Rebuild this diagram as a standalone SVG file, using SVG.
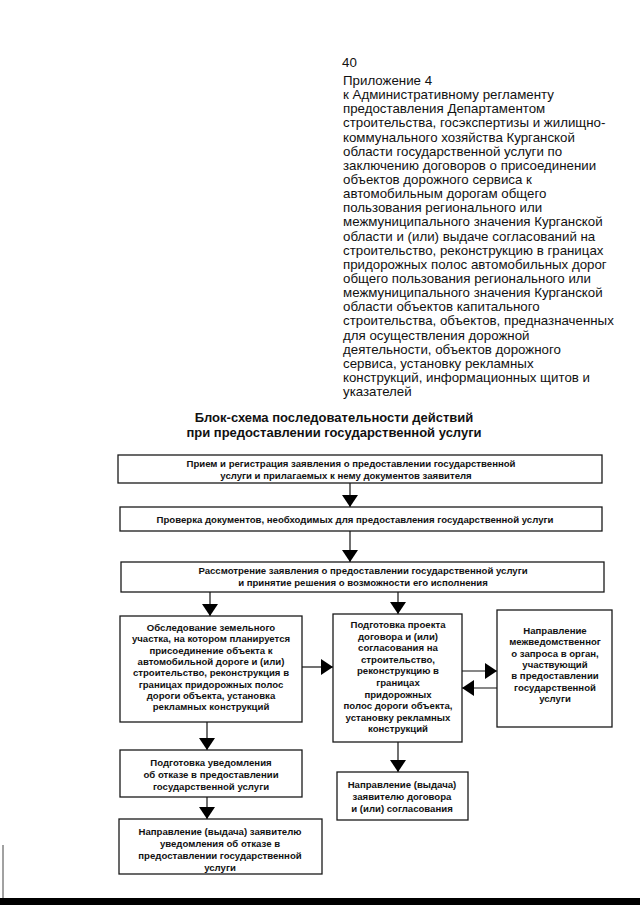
<svg xmlns="http://www.w3.org/2000/svg" width="640" height="905" viewBox="0 0 640 905">
<defs>
<style>
.hd{font-family:"Liberation Sans",Arial,sans-serif;font-size:13.3px;fill:#111}
.tt{font-family:"Liberation Sans",Arial,sans-serif;font-size:13px;font-weight:bold;fill:#111;text-anchor:middle}
.bx{fill:#fff;stroke:#1a1a1a;stroke-width:1.3}
.tx{font-family:"Liberation Sans",Arial,sans-serif;font-size:9.6px;font-weight:bold;fill:#111;text-anchor:middle}
.ln{stroke:#111;stroke-width:1.2;fill:none}
</style>
<marker id="ah" viewBox="0 0 12 16" refX="12" refY="8" markerWidth="12" markerHeight="16" markerUnits="userSpaceOnUse" orient="auto">
<path d="M0,0 L12,8 L0,16 Z" fill="#000"/>
</marker>
</defs>
<rect width="640" height="905" fill="#fff"/>

<g id="header">
<text class="hd" x="342" y="67" font-size="14">40</text>
<text class="hd" x="343" y="85">Приложение 4</text>
<text class="hd" x="343" y="99.1">к Административному регламенту</text>
<text class="hd" x="343" y="113.3">предоставления Департаментом</text>
<text class="hd" x="343" y="127.4">строительства, госэкспертизы и жилищно-</text>
<text class="hd" x="343" y="141.6">коммунального хозяйства Курганской</text>
<text class="hd" x="343" y="155.7">области государственной услуги по</text>
<text class="hd" x="343" y="169.9">заключению договоров о присоединении</text>
<text class="hd" x="343" y="184">объектов дорожного сервиса к</text>
<text class="hd" x="343" y="198.1">автомобильным дорогам общего</text>
<text class="hd" x="343" y="212.3">пользования регионального или</text>
<text class="hd" x="343" y="226.4">межмуниципального значения Курганской</text>
<text class="hd" x="343" y="240.6">области и (или) выдаче согласований на</text>
<text class="hd" x="343" y="254.7">строительство, реконструкцию в границах</text>
<text class="hd" x="343" y="268.9">придорожных полос автомобильных дорог</text>
<text class="hd" x="343" y="283">общего пользования регионального или</text>
<text class="hd" x="343" y="297.1">межмуниципального значения Курганской</text>
<text class="hd" x="343" y="311.3">области объектов капитального</text>
<text class="hd" x="343" y="325.4">строительства, объектов, предназначенных</text>
<text class="hd" x="343" y="339.6">для осуществления дорожной</text>
<text class="hd" x="343" y="353.7">деятельности, объектов дорожного</text>
<text class="hd" x="343" y="367.9">сервиса, установку рекламных</text>
<text class="hd" x="343" y="382">конструкций, информационных щитов и</text>
<text class="hd" x="343" y="396.1">указателей</text>
</g>

<g id="title">
<text class="tt" x="334" y="422">Блок-схема последовательности действий</text>
<text class="tt" x="334" y="437">при предоставлении государственной услуги</text>
</g>

<g id="connectors">
<line class="ln" x1="350" y1="483" x2="350" y2="507" marker-end="url(#ah)"/>
<line class="ln" x1="350" y1="531" x2="350" y2="562" marker-end="url(#ah)"/>
<line class="ln" x1="210" y1="592" x2="210" y2="616" marker-end="url(#ah)"/>
<line class="ln" x1="398" y1="592" x2="398" y2="614" marker-end="url(#ah)"/>
<line class="ln" x1="207" y1="722" x2="207" y2="750" marker-end="url(#ah)"/>
<line class="ln" x1="207" y1="797" x2="207" y2="819" marker-end="url(#ah)"/>
<line class="ln" x1="398" y1="742" x2="398" y2="772" marker-end="url(#ah)"/>
<line class="ln" x1="302" y1="667" x2="333" y2="667" marker-end="url(#ah)"/>
<line class="ln" x1="462" y1="671" x2="497" y2="671" marker-end="url(#ah)"/>
<line class="ln" x1="497" y1="688" x2="462" y2="688" marker-end="url(#ah)"/>
</g>

<g id="n1">
<rect class="bx" x="118" y="455" width="484" height="28"/>
<text class="tx" x="351" y="467">Прием и регистрация заявления о предоставлении государственной</text>
<text class="tx" x="346" y="479">услуги и прилагаемых к нему документов заявителя</text>
</g>
<g id="n2">
<rect class="bx" x="120" y="507" width="482" height="24"/>
<text class="tx" x="355" y="522.5">Проверка документов, необходимых для предоставления государственной услуги</text>
</g>
<g id="n3">
<rect class="bx" x="121" y="562" width="483" height="30"/>
<text class="tx" x="363" y="574">Рассмотрение заявления о предоставлении государственной услуги</text>
<text class="tx" x="363" y="586">и принятие решения о возможности его исполнения</text>
</g>
<g id="n4">
<rect class="bx" x="120" y="616" width="182" height="106"/>
<text class="tx" x="211" y="631">Обследование земельного</text>
<text class="tx" x="211" y="642.3">участка, на котором планируется</text>
<text class="tx" x="211" y="653.6">присоединение  объекта к</text>
<text class="tx" x="211" y="664.9">автомобильной  дороге и (или)</text>
<text class="tx" x="211" y="676.2">строительство,  реконструкция в</text>
<text class="tx" x="211" y="687.5">границах придорожных полос</text>
<text class="tx" x="211" y="698.8">дороги  объекта, установка</text>
<text class="tx" x="211" y="710.1">рекламных конструкций</text>
</g>
<g id="n5">
<rect class="bx" x="333" y="614" width="129" height="128"/>
<text class="tx" x="398" y="628">Подготовка проекта</text>
<text class="tx" x="398" y="639.6">договора  и (или)</text>
<text class="tx" x="398" y="651.2">согласования на</text>
<text class="tx" x="398" y="662.8">строительство,</text>
<text class="tx" x="398" y="674.4">реконструкцию в</text>
<text class="tx" x="398" y="686">границах</text>
<text class="tx" x="398" y="697.6">придорожных</text>
<text class="tx" x="398" y="709.2">полос дороги объекта,</text>
<text class="tx" x="398" y="720.8">установку рекламных</text>
<text class="tx" x="398" y="732.4">конструкций</text>
</g>
<g id="n6">
<rect class="bx" x="497" y="610" width="115" height="117"/>
<text class="tx" x="555" y="634">Направление</text>
<text class="tx" x="555" y="645.3">межведомственног</text>
<text class="tx" x="555" y="656.6">о запроса в орган,</text>
<text class="tx" x="555" y="667.9">участвующий</text>
<text class="tx" x="555" y="679.2">в предоставлении</text>
<text class="tx" x="555" y="690.5">государственной</text>
<text class="tx" x="555" y="701.8">услуги</text>
</g>
<g id="n7">
<rect class="bx" x="120" y="750" width="182" height="47"/>
<text class="tx" x="211" y="766">Подготовка уведомления</text>
<text class="tx" x="211" y="778">об отказе в предоставлении</text>
<text class="tx" x="211" y="790">государственной услуги</text>
</g>
<g id="n8">
<rect class="bx" x="119" y="819" width="203" height="55"/>
<text class="tx" x="220" y="835">Направление (выдача) заявителю</text>
<text class="tx" x="220" y="847">уведомления  об отказе в</text>
<text class="tx" x="220" y="859">предоставлении  государственной</text>
<text class="tx" x="220" y="871">услуги</text>
</g>
<g id="n9">
<rect class="bx" x="337" y="772" width="131" height="48"/>
<text class="tx" x="402" y="788">Направление (выдача)</text>
<text class="tx" x="402" y="800">заявителю  договора</text>
<text class="tx" x="402" y="811.5">и (или) согласования</text>
</g>

<rect x="0" y="898" width="640" height="7" fill="#000"/>
<line x1="3" y1="845" x2="3" y2="898" stroke="#444" stroke-width="1"/>
</svg>
